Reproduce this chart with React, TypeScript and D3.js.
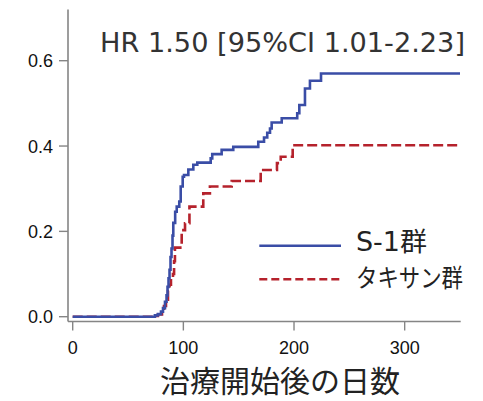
import React from "react";
import * as d3 from "d3";

const blueDays = [0, 74.3, 77, 79.8, 81.6, 83.4, 84.8, 85.7, 86.6, 87.5, 88.4, 89.3, 90.2, 90.9, 92.6, 94, 96.3, 97.6, 99.4, 100.6, 104.5, 109, 112.6, 124.7, 126.1, 134.6, 145.1, 167.7, 172.9, 175.8, 178.3, 179.8, 188.9, 202.9, 204.8, 209.9, 214.4, 224.4, 350];
const blueRisk = [0, 0.003, 0.006, 0.012, 0.02, 0.035, 0.05, 0.07, 0.09, 0.11, 0.14, 0.16, 0.19, 0.22, 0.246, 0.258, 0.27, 0.305, 0.328, 0.332, 0.345, 0.356, 0.361, 0.371, 0.381, 0.391, 0.398, 0.41, 0.42, 0.431, 0.441, 0.455, 0.465, 0.477, 0.496, 0.535, 0.553, 0.57, 0.57];

const redDays = [0, 72.8, 77, 80.7, 82.5, 84.3, 86.1, 87.5, 88.8, 90.6, 91.6, 92.4, 98.5, 101.5, 105.5, 118, 124, 143.7, 169.9, 184.6, 188, 198.8, 350];
const redRisk = [0, 0.002, 0.005, 0.012, 0.025, 0.04, 0.06, 0.075, 0.09, 0.1, 0.13, 0.162, 0.203, 0.219, 0.258, 0.289, 0.305, 0.318, 0.344, 0.36, 0.375, 0.402, 0.402];

const xTicks = [0, 100, 200, 300];
const yTicks = [0, 0.2, 0.4, 0.6];
const yTickLabels = ["0.0", "0.2", "0.4", "0.6"];

const seriesNames = ["S-1群", "タキサン群"];
const titleText = "HR 1.50 [95%CI 1.01-2.23]";
const xLabel = "治療開始後の日数";

const BLUE = "#3a4da6";
const RED = "#b5222c";
const AXIS = "#858585";

export default function App() {
  const x = d3.scaleLinear().domain([0, 350]).range([72.7, 460.0]);
  const y = d3.scaleLinear().domain([0, 0.6]).range([316.7, 60.7]);
  const yTop = 0.72;

  const line = d3
    .line<[number, number]>()
    .x((d) => x(d[0]))
    .y((d) => y(d[1]))
    .curve(d3.curveStepAfter);

  const blueData: [number, number][] = blueDays.map((d, i) => [d, blueRisk[i]]);
  const redData: [number, number][] = redDays.map((d, i) => [d, redRisk[i]]);

  const axisY = 321.5;
  const axisX = 68;

  return (
    <svg
      width={483}
      height={401}
      style={{ position: "absolute", left: 0, top: 0, background: "#fff" }}
    >
      <rect width={483} height={401} fill="#fff" />
      {/* y axis */}
      <line x1={axisX} x2={axisX} y1={y(yTop)} y2={axisY} stroke={AXIS} strokeWidth={1.6} />
      {yTicks.map((t, i) => (
        <g key={"yt" + i}>
          <line x1={axisX - 9} x2={axisX} y1={y(t)} y2={y(t)} stroke={AXIS} strokeWidth={1.4} />
          <text
            x={53}
            y={y(t) + 6.5}
            textAnchor="end"
            fontFamily="'Liberation Sans', Arial, sans-serif"
            fontSize={18}
            fill="#111"
          >
            {yTickLabels[i]}
          </text>
        </g>
      ))}
      {/* x axis */}
      <line x1={axisX} x2={x(350) + 0.7} y1={axisY} y2={axisY} stroke={AXIS} strokeWidth={1.6} />
      {xTicks.map((t, i) => (
        <g key={"xt" + i}>
          <line x1={x(t)} x2={x(t)} y1={axisY} y2={axisY + 9} stroke={AXIS} strokeWidth={1.4} />
          <text
            x={x(t)}
            y={354}
            textAnchor="middle"
            fontFamily="'Liberation Sans', Arial, sans-serif"
            fontSize={18}
            fill="#111"
          >
            {t}
          </text>
        </g>
      ))}
      {/* curves */}
      <path d={line(redData) || ""} fill="none" stroke={RED} strokeWidth={2.6} strokeDasharray="10 4" />
      <path d={line(blueData) || ""} fill="none" stroke={BLUE} strokeWidth={2.6} />

      {/* title */}
      <text
        x={100}
        y={52}
        fontFamily="'DejaVu Sans', 'Noto Sans CJK JP', sans-serif"
        fontSize={26}
        fill="#333"
        textLength={365}
        lengthAdjust="spacingAndGlyphs"
      >
        {titleText}
      </text>

      {/* legend */}
      <line x1={259.3} x2={341} y1={245.7} y2={245.7} stroke={BLUE} strokeWidth={2.6} />
      <line x1={259.3} x2={341} y1={279.3} y2={279.3} stroke={RED} strokeWidth={2.6} strokeDasharray="8 4" />
      <text
        x={356}
        y={250.5}
        fontFamily="'DejaVu Sans', 'Noto Sans CJK JP', sans-serif"
        fontSize={26}
        fill="#222"
        textLength={71}
        lengthAdjust="spacingAndGlyphs"
      >
        {seriesNames[0]}
      </text>
      <text
        x={356}
        y={286.5}
        fontFamily="'Noto Sans CJK JP', sans-serif"
        fontSize={25}
        fill="#222"
        textLength={107}
        lengthAdjust="spacingAndGlyphs"
      >
        {seriesNames[1]}
      </text>

      {/* x label */}
      <text
        x={280}
        y={392}
        textAnchor="middle"
        fontFamily="'Noto Sans CJK JP', sans-serif"
        fontSize={30}
        fill="#222"
      >
        {xLabel}
      </text>
    </svg>
  );
}
